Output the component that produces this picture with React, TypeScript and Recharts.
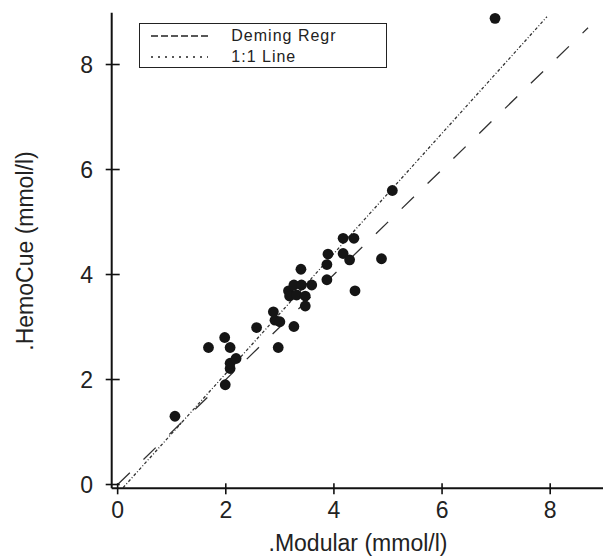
import React from "react";
import { ScatterChart, Scatter, XAxis, YAxis, ReferenceLine, Legend } from "recharts";

// Data
const modularValues = [1.06, 1.99, 2.08, 2.08, 2.19, 2.08, 1.98, 1.68, 2.57, 2.97, 2.88, 2.91, 3.0, 3.26, 3.16, 3.26, 3.4, 3.59, 3.18, 3.31, 3.47, 3.47, 3.39, 3.87, 3.87, 3.89, 4.17, 4.37, 4.17, 4.29, 4.39, 4.88, 5.08, 6.98];
const hemocueValues = [1.3, 1.9, 2.21, 2.31, 2.4, 2.61, 2.8, 2.61, 2.99, 2.61, 3.29, 3.13, 3.1, 3.01, 3.69, 3.8, 3.8, 3.8, 3.59, 3.61, 3.59, 3.4, 4.1, 3.9, 4.19, 4.39, 4.69, 4.69, 4.4, 4.28, 3.69, 4.3, 5.6, 8.88];

const identityLineX = [0, 8.7];
const identityLineY = [0, 8.7];
const demingLineX = [0.1, 7.94];
const demingLineY = [-0.06, 8.91];

const xTicks = [0, 2, 4, 6, 8];
const yTicks = [0, 2, 4, 6, 8];
const xDomain = [-0.11, 9.5];
const yDomain = [-0.072, 8.987];

const legendNames = ["Deming Regr", "1:1 Line"];
const legendDashes = ["7 3", "2 5"];

const xAxisTitle = ".Modular (mmol/l)";
const yAxisTitle = ".HemoCue (mmol/l)";

const points = modularValues.map((x, i) => ({ x, y: hemocueValues[i] }));
const identitySegment = identityLineX.map((x, i) => ({ x, y: identityLineY[i] }));
const demingSegment = demingLineX.map((x, i) => ({ x, y: demingLineY[i] }));

const FONT = "'Liberation Sans', Arial, sans-serif";
const TICK_SIZE = 6;
const Y_TICK_MARGIN = 12.7;
const X_TICK_MARGIN = 7.7;

const YTick = (props: any) => {
  const { x, y, payload } = props;
  const axisX = x + TICK_SIZE + Y_TICK_MARGIN;
  return (
    <g>
      <line x1={axisX} x2={axisX + 8} y1={y} y2={y} stroke="#111" strokeWidth={1.6} />
      <text x={x} y={y} dy="0.36em" textAnchor="end" fontSize={23} fontFamily={FONT} fill="#222">
        {payload.value}
      </text>
    </g>
  );
};

const XTick = (props: any) => {
  const { x, y, payload } = props;
  const axisY = y - TICK_SIZE - X_TICK_MARGIN;
  return (
    <g>
      <line x1={x} x2={x} y1={axisY} y2={axisY - 5} stroke="#111" strokeWidth={1.6} />
      <text x={x} y={y} dy="0.71em" textAnchor="middle" fontSize={23} fontFamily={FONT} fill="#222">
        {payload.value}
      </text>
    </g>
  );
};

const XTitle = () => (
  <text x={358} y={551} textAnchor="middle" fontSize={23} fontFamily={FONT} fill="#222">
    {xAxisTitle}
  </text>
);

const YTitle = () => (
  <text
    x={33}
    y={251}
    textAnchor="middle"
    fontSize={23}
    fontFamily={FONT}
    fill="#222"
    transform="rotate(-90 33 251)"
  >
    {yAxisTitle}
  </text>
);

const Dot = (props: any) => {
  const { cx, cy } = props;
  return <circle cx={cx} cy={cy} r={5.4} fill="#151515" />;
};

const LegendBox = () => (
  <div
    style={{
      width: 248,
      height: 45,
      boxSizing: "border-box",
      border: "1.8px solid #222",
      background: "#fff",
      position: "relative",
      fontFamily: FONT,
    }}
  >
    {legendNames.map((name, i) => (
      <div key={name} style={{ position: "absolute", left: 0, top: i === 0 ? 1 : 22, height: 22, width: 246 }}>
        <svg width={80} height={22} style={{ position: "absolute", left: 0, top: 0 }}>
          <line x1={11} x2={68} y1={11} y2={11} stroke="#222" strokeWidth={1.5} strokeDasharray={legendDashes[i]} />
        </svg>
        <span
          style={{
            position: "absolute",
            left: 91,
            top: 0,
            lineHeight: "22px",
            fontSize: 16,
            letterSpacing: 1,
            color: "#222",
            whiteSpace: "nowrap",
          }}
        >
          {name}
        </span>
      </div>
    ))}
  </div>
);

export default function App() {
  return (
    <div
      style={{
        position: "absolute",
        left: 0,
        top: 0,
        width: 603,
        height: 557,
        overflow: "hidden",
        background: "#fff",
      }}
    >
      <ScatterChart width={640} height={557} margin={{ top: 12.7, right: 8.7, left: 0, bottom: 0 }}>
        <XAxis
          type="number"
          dataKey="x"
          domain={xDomain}
          ticks={xTicks}
          allowDataOverflow
          height={68.7}
          tickSize={TICK_SIZE}
          tickMargin={X_TICK_MARGIN}
          tick={<XTick />}
          tickLine={{ stroke: "#111", strokeWidth: 1.6 }}
          axisLine={{ stroke: "#111", strokeWidth: 2 }}
          label={<XTitle />}
        />
        <XAxis
          xAxisId="top"
          orientation="top"
          type="number"
          dataKey="x"
          domain={xDomain}
          allowDataOverflow
          height={0}
          tick={false}
          tickLine={false}
          axisLine={{ stroke: "#111", strokeWidth: 2 }}
        />
        <YAxis
          type="number"
          dataKey="y"
          domain={yDomain}
          ticks={yTicks}
          allowDataOverflow
          width={111.7}
          tickSize={TICK_SIZE}
          tickMargin={Y_TICK_MARGIN}
          tick={<YTick />}
          tickLine={{ stroke: "#111", strokeWidth: 1.6 }}
          axisLine={{ stroke: "#111", strokeWidth: 2 }}
          label={<YTitle />}
        />
        <ReferenceLine
          segment={identitySegment}
          stroke="#333"
          strokeWidth={1.3}
          strokeDasharray="17 19"
          ifOverflow="hidden"
        />
        <ReferenceLine
          segment={demingSegment}
          stroke="#333"
          strokeWidth={1.3}
          strokeDasharray="3 2 1 2"
          ifOverflow="hidden"
        />
        <Scatter data={points} shape={<Dot />} isAnimationActive={false} />
        <Legend
          layout="vertical"
          align="center"
          verticalAlign="middle"
          content={<LegendBox />}
          wrapperStyle={{ left: 139.3, top: 22.7, width: 248, height: 45, right: "auto", bottom: "auto", transform: "none" }}
        />
      </ScatterChart>
    </div>
  );
}
